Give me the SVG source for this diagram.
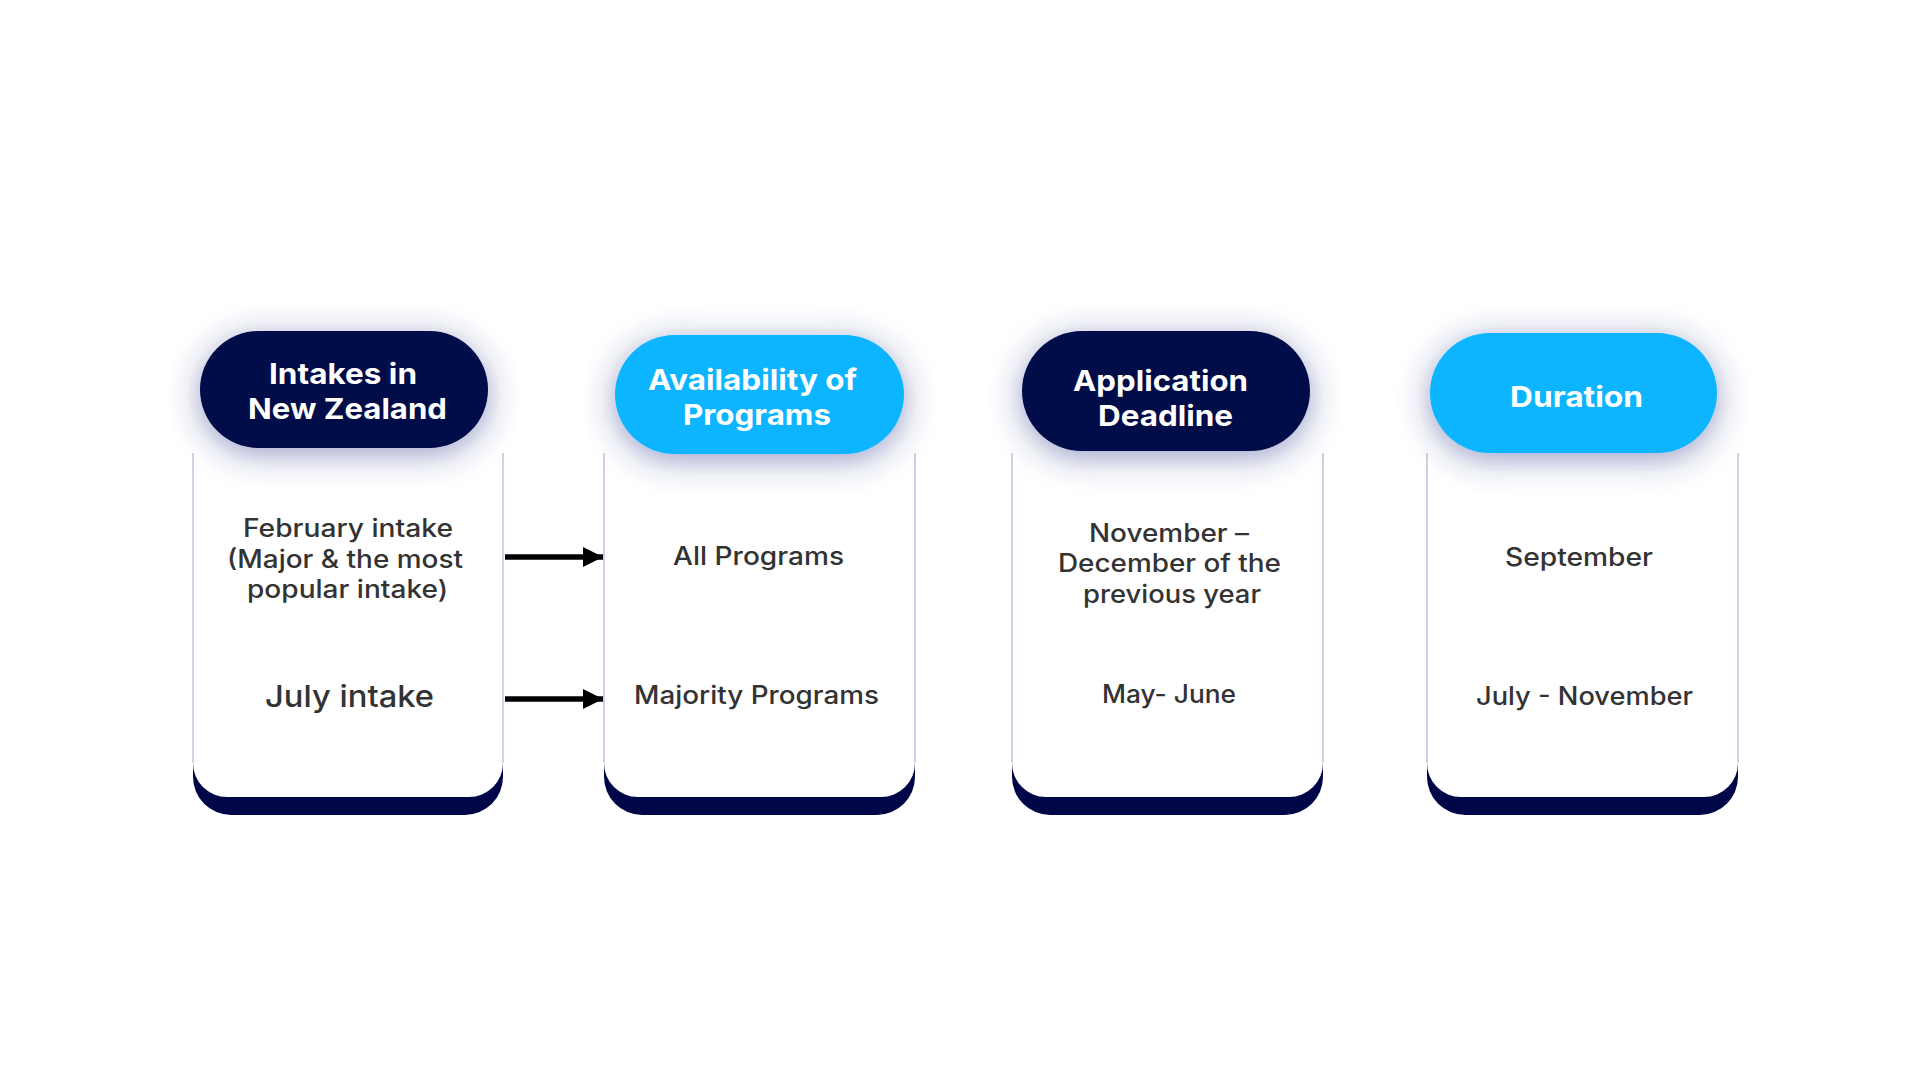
<svg xmlns="http://www.w3.org/2000/svg" width="1920" height="1080" viewBox="0 0 1920 1080">
  <defs>
    <filter id="glow" x="-30%" y="-70%" width="160%" height="240%">
      <feGaussianBlur in="SourceAlpha" stdDeviation="16" result="b"/>
      <feOffset in="b" dy="6" result="o"/>
      <feFlood flood-color="#2e3a8c" flood-opacity="0.5"/>
      <feComposite in2="o" operator="in" result="s"/>
      <feMerge><feMergeNode in="s"/><feMergeNode in="SourceGraphic"/></feMerge>
    </filter>
    <marker id="arrow" viewBox="0 0 20 20" refX="20" refY="10" markerWidth="20" markerHeight="20" markerUnits="userSpaceOnUse" orient="auto">
      <path d="M0,0 L20,10 L0,20 Z" fill="#000000"/>
    </marker>
  </defs>
  <style>
    .band { fill: #000749; }
    .card { fill: #ffffff; }
    .edge { fill: none; stroke: #c6c6dc; stroke-width: 1.6; }
    .navy { fill: #000749; }
    .cyan { fill: #0db4ff; }
    .head { font-family: Inter, "Open Sans", "DejaVu Sans", sans-serif; font-weight: 700; font-size: 29px; fill: #ffffff; text-anchor: middle; }
    .body { font-family: Inter, "Open Sans", "DejaVu Sans", sans-serif; font-weight: 500; font-size: 25px; fill: #333333; text-anchor: middle; }
    .big { font-size: 30px; }
    .conn { stroke: #000000; stroke-width: 5.5; fill: none; }
  </style>
  <rect width="1920" height="1080" fill="#ffffff"/>

  <g id="card-intakes">
    <rect class="band" x="193" y="700" width="310" height="115" rx="38"/>
    <path class="card" d="M193,453 V763 A34,34 0 0 0 227,797 H469 A34,34 0 0 0 503,763 V453 Z"/>
    <path class="edge" d="M193,453 V763 M503,453 V763"/>
    <rect class="navy" x="200" y="331" width="288" height="117" rx="58.5" filter="url(#glow)"/>
    <text class="head" x="343" y="384" textLength="148" lengthAdjust="spacingAndGlyphs">Intakes in</text>
    <text class="head" x="347.5" y="419" textLength="199" lengthAdjust="spacingAndGlyphs">New Zealand</text>
    <text class="body" x="348" y="537" textLength="210" lengthAdjust="spacingAndGlyphs">February intake</text>
    <text class="body" x="345" y="568" textLength="236" lengthAdjust="spacingAndGlyphs">(Major &amp; the most</text>
    <text class="body" x="347.5" y="598" textLength="201" lengthAdjust="spacingAndGlyphs">popular intake)</text>
    <text class="body big" x="349.5" y="707" textLength="169" lengthAdjust="spacingAndGlyphs">July intake</text>
  </g>

  <g id="card-programs">
    <rect class="band" x="604" y="700" width="311" height="115" rx="38"/>
    <path class="card" d="M604,453 V763 A34,34 0 0 0 638,797 H881 A34,34 0 0 0 915,763 V453 Z"/>
    <path class="edge" d="M604,453 V763 M915,453 V763"/>
    <rect class="cyan" x="615" y="335" width="289" height="119" rx="59.5" filter="url(#glow)"/>
    <text class="head" x="752.5" y="390" textLength="209" lengthAdjust="spacingAndGlyphs">Availability of</text>
    <text class="head" x="757" y="425" textLength="148" lengthAdjust="spacingAndGlyphs">Programs</text>
    <text class="body" x="758.5" y="565" textLength="171" lengthAdjust="spacingAndGlyphs">All Programs</text>
    <text class="body" x="756.5" y="704" textLength="245" lengthAdjust="spacingAndGlyphs">Majority Programs</text>
  </g>

  <g id="card-deadline">
    <rect class="band" x="1012" y="700" width="311" height="115" rx="38"/>
    <path class="card" d="M1012,453 V763 A34,34 0 0 0 1046,797 H1289 A34,34 0 0 0 1323,763 V453 Z"/>
    <path class="edge" d="M1012,453 V763 M1323,453 V763"/>
    <rect class="navy" x="1022" y="331" width="288" height="120" rx="60" filter="url(#glow)"/>
    <text class="head" x="1160.5" y="391" textLength="175" lengthAdjust="spacingAndGlyphs">Application</text>
    <text class="head" x="1165.5" y="426" textLength="135" lengthAdjust="spacingAndGlyphs">Deadline</text>
    <text class="body" x="1169" y="542" textLength="160" lengthAdjust="spacingAndGlyphs">November –</text>
    <text class="body" x="1169.5" y="572" textLength="223" lengthAdjust="spacingAndGlyphs">December of the</text>
    <text class="body" x="1172" y="603" textLength="178" lengthAdjust="spacingAndGlyphs">previous year</text>
    <text class="body" x="1169" y="703" textLength="134" lengthAdjust="spacingAndGlyphs">May- June</text>
  </g>

  <g id="card-duration">
    <rect class="band" x="1427" y="700" width="311" height="115" rx="38"/>
    <path class="card" d="M1427,453 V763 A34,34 0 0 0 1461,797 H1704 A34,34 0 0 0 1738,763 V453 Z"/>
    <path class="edge" d="M1427,453 V763 M1738,453 V763"/>
    <rect class="cyan" x="1430" y="333" width="287" height="120" rx="60" filter="url(#glow)"/>
    <text class="head" x="1576.5" y="407" textLength="133" lengthAdjust="spacingAndGlyphs">Duration</text>
    <text class="body" x="1579" y="566" textLength="148" lengthAdjust="spacingAndGlyphs">September</text>
    <text class="body" x="1584.5" y="705" textLength="217" lengthAdjust="spacingAndGlyphs">July - November</text>
  </g>

  <g id="connectors">
    <line class="conn" x1="505" y1="557" x2="603" y2="557" marker-end="url(#arrow)"/>
    <line class="conn" x1="505" y1="699" x2="603" y2="699" marker-end="url(#arrow)"/>
  </g>
</svg>
